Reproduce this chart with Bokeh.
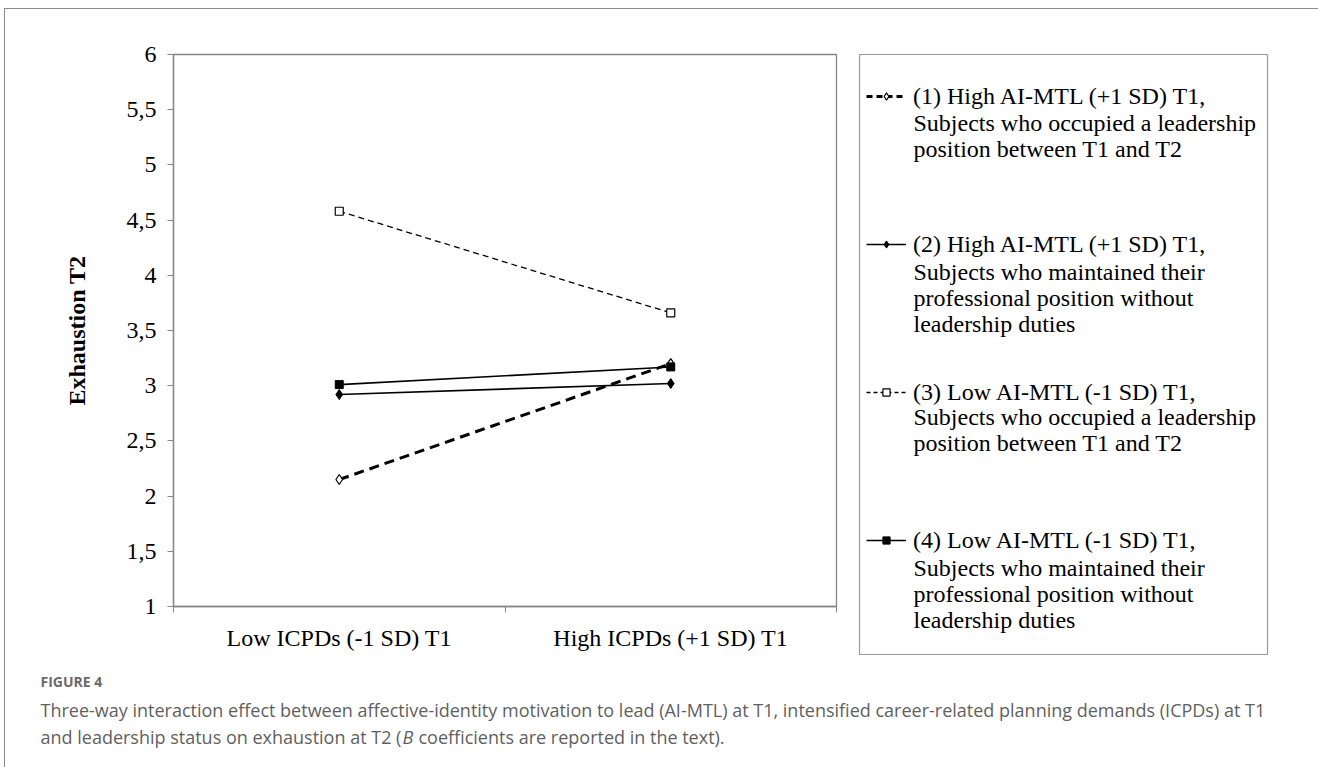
from bokeh.plotting import figure
from bokeh.models import Legend, LegendItem, Label, FixedTicker, Range1d
from bokeh.layouts import column, row
from bokeh.embed import file_html
from bokeh.resources import INLINE

# ---------------- data ----------------
categories = ["Low ICPDs (-1 SD) T1", "High ICPDs (+1 SD) T1"]
s1_high_mtl_leader = [2.15, 3.20]
s2_high_mtl_noleader = [2.92, 3.02]
s3_low_mtl_leader = [4.58, 3.66]
s4_low_mtl_noleader = [3.01, 3.17]

legend_texts = [
    ["(1) High AI-MTL (+1 SD) T1,", "Subjects who occupied a leadership", "position between T1 and T2"],
    ["(2) High AI-MTL (+1 SD) T1,", "Subjects who maintained their", "professional position without", "leadership duties"],
    ["(3) Low AI-MTL (-1 SD) T1,", "Subjects who occupied a leadership", "position between T1 and T2"],
    ["(4) Low AI-MTL (-1 SD) T1,", "Subjects who maintained their", "professional position without", "leadership duties"],
]
y_ticks = [1, 1.5, 2, 2.5, 3, 3.5, 4, 4.5, 5, 5.5, 6]
y_tick_labels = ["1", "1,5", "2", "2,5", "3", "3,5", "4", "4,5", "5", "5,5", "6"]
y_title = "Exhaustion T2"
figure_label = "FIGURE 4"
caption_line1 = ("Three-way interaction effect between affective-identity motivation to lead (AI-MTL) at T1, "
                 "intensified career-related planning demands (ICPDs) at T1")
caption_line2 = ["and leadership status on exhaustion at T2 (", "B", "coefficients are reported in the text)."]

# ---------------- layout constants ----------------
W, H = 1318, 767
OX, OY = 5, 9            # content origin inside the outer border
CW = W - OX              # content width
TOP_H = 651              # height of chart row
AX = "#868686"
SERIF = "Liberation Serif"
SANS = "Open Sans"

# ---------------- chart ----------------
x_pos = [i + 0.5 for i in range(len(categories))]

p = figure(width=841, height=TOP_H, output_backend="svg", toolbar_location=None,
           x_range=Range1d(0, len(categories)), y_range=Range1d(1, 6),
           min_border_left=168, min_border_right=10, min_border_top=45, min_border_bottom=54)
p.background_fill_color = "white"
p.border_fill_color = "white"
p.outline_line_color = AX
p.outline_line_width = 1.3
p.xgrid.visible = False
p.ygrid.visible = False

p.xaxis.ticker = FixedTicker(ticks=x_pos, minor_ticks=list(range(len(categories) + 1)))
p.xaxis.major_label_overrides = {x: c for x, c in zip(x_pos, categories)}
p.xaxis.major_tick_in = 0
p.xaxis.major_tick_out = 0
p.xaxis.minor_tick_in = 0
p.xaxis.minor_tick_out = 6
p.xaxis.minor_tick_line_color = AX
p.xaxis.axis_line_color = AX
p.xaxis.axis_line_width = 1.3
p.xaxis.major_label_standoff = 12
p.xaxis.major_label_text_font = SERIF
p.xaxis.major_label_text_font_size = "24px"
p.xaxis.major_label_text_color = "black"

p.yaxis.ticker = FixedTicker(ticks=y_ticks, minor_ticks=[])
p.yaxis.major_label_overrides = {t: l for t, l in zip(y_ticks, y_tick_labels)}
p.yaxis.major_tick_in = 0
p.yaxis.major_tick_out = 6
p.yaxis.major_tick_line_color = AX
p.yaxis.minor_tick_line_color = None
p.yaxis.axis_line_color = AX
p.yaxis.axis_line_width = 1.3
p.yaxis.major_label_standoff = 11
p.yaxis.major_label_text_font = SERIF
p.yaxis.major_label_text_font_size = "24px"
p.yaxis.major_label_text_color = "black"
p.yaxis.axis_label = y_title
p.yaxis.axis_label_text_font = SERIF
p.yaxis.axis_label_text_font_style = "bold"
p.yaxis.axis_label_text_font_size = "24px"
p.yaxis.axis_label_text_color = "black"
p.yaxis.axis_label_standoff = 34

styles = [
    dict(line=dict(line_color="black", line_width=3, line_dash="10 6"),
         mark=dict(marker="diamond", size=10, fill_color="white", line_color="black", line_width=1.2)),
    dict(line=dict(line_color="black", line_width=1.6),
         mark=dict(marker="diamond", size=10, fill_color="black", line_color="black")),
    dict(line=dict(line_color="black", line_width=1.3, line_dash="6 4"),
         mark=dict(marker="square", size=8, fill_color="white", line_color="black", line_width=1.2)),
    dict(line=dict(line_color="black", line_width=1.6),
         mark=dict(marker="square", size=8, fill_color="black", line_color="black")),
]
legend_key_dash = ["6 4", None, "4 3", None]
series = [s1_high_mtl_leader, s2_high_mtl_noleader, s3_low_mtl_leader, s4_low_mtl_noleader]
for vals, st in zip(series, styles):
    p.line(x_pos, vals, **st["line"])
    p.scatter(x_pos, vals, **st["mark"])

# ---------------- legend panel ----------------
LX0, LX1, LY0, LY1 = 859, 1267, 54, 654   # legend box in page pixels
pl = figure(width=CW - 841, height=TOP_H, output_backend="svg", toolbar_location=None,
            x_range=Range1d(LX0, LX1), y_range=Range1d(LY1, LY0),
            min_border_left=(LX0 - OX) - 841, min_border_right=CW - (LX1 - OX),
            min_border_top=LY0 - OY, min_border_bottom=TOP_H - (LY1 - OY))
pl.axis.visible = False
pl.grid.visible = False
pl.outline_line_color = "#9a9a9a"
pl.outline_line_width = 1.2
pl.background_fill_color = "white"
pl.border_fill_color = "white"

# legend-key renderers (same series; their data lie outside this panel's ranges, only the keys show)
legend_renderers = []
for vals, st, kd in zip(series, styles, legend_key_dash):
    lst = dict(st["line"])
    if kd:
        lst["line_dash"] = kd
    lr = pl.line(x_pos, vals, **lst)
    mr = pl.scatter(x_pos, vals, **st["mark"])
    legend_renderers.append([lr, mr])

entry_y = [96, 245, 390, 541]
LINE_STEP = 26
MARGIN = 7
ROW_H = 2 * (entry_y[0] - LY0 - MARGIN)          # row centred on first text line
items = [LegendItem(label=t[0], renderers=rs) for t, rs in zip(legend_texts, legend_renderers)]
legend = Legend(items=items, location="top_left",
                glyph_width=40, glyph_height=18, label_height=ROW_H, label_standoff=7,
                spacing=148 - ROW_H, padding=0, margin=MARGIN,
                border_line_color=None, background_fill_alpha=0,
                label_text_font=SERIF, label_text_font_size="24px", label_text_color="black")
pl.add_layout(legend)

for t, ey in zip(legend_texts, entry_y):
    for k, line in enumerate(t[1:], start=1):
        pl.add_layout(Label(x=913, y=ey + k * LINE_STEP, text=line, text_font=SERIF,
                            text_font_size="24px", text_color="black",
                            text_baseline="middle", text_align="left"))

# ---------------- caption ----------------
CAP_H = H - OY - TOP_H
pc = figure(width=CW, height=CAP_H, output_backend="svg", toolbar_location=None,
            x_range=Range1d(OX, W), y_range=Range1d(H, H - CAP_H),
            min_border_left=0, min_border_right=0, min_border_top=0, min_border_bottom=0)
pc.axis.visible = False
pc.grid.visible = False
pc.outline_line_color = None
pc.background_fill_color = "white"
pc.border_fill_color = "white"

pc.add_layout(Label(x=40, y=681, text=figure_label, text_font=SANS, text_font_size="14px",
                    text_font_style="bold", text_color="#6a6a6a", text_baseline="middle"))
pc.add_layout(Label(x=40, y=709, text=caption_line1, text_font=SANS, text_font_size="18px",
                    text_color="#5f5f5f", text_baseline="middle"))
cap2_x = [40, 402, 418]
cap2_style = ["normal", "italic", "normal"]
for txt, cx, st in zip(caption_line2, cap2_x, cap2_style):
    pc.add_layout(Label(x=cx, y=736, text=txt, text_font=SANS, text_font_size="18px",
                        text_font_style=st, text_color="#5f5f5f", text_baseline="middle"))

layout = column(row(p, column(pl, spacing=0), spacing=0), pc, spacing=0,
                margin=(8, 0, 0, 4),
                styles={"border-top": "1px solid #8a8a8a", "border-left": "1px solid #8a8a8a"})

open("out.html", "w").write(file_html(layout, INLINE))
